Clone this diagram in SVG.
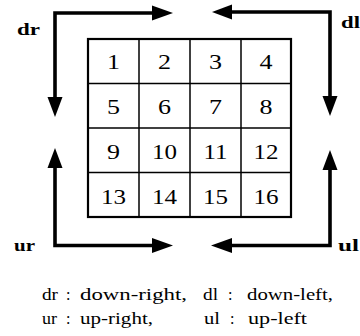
<svg xmlns="http://www.w3.org/2000/svg" width="360" height="336" viewBox="0 0 360 336">
  <style>
    .bg { fill: #ffffff; }
    .cell { fill: none; stroke: #000; stroke-width: 1.5; }
    .frame { fill: none; stroke: #000; stroke-width: 2.2; }
    .num { font-size: 21px; fill: #000; text-anchor: middle; }
    .dir { font-size: 17px; font-weight: bold; fill: #000; }
    .leg { font-size: 16px; fill: #000; }
    .path { fill: none; stroke: #000; stroke-width: 3.6; stroke-linejoin: miter; stroke-linecap: butt; }
    .head { fill: #000; stroke: none; }
  </style>
  <rect class="bg" x="0" y="0" width="360" height="336"/>

  <!-- 4x4 grid of numbered cells -->
  <g id="grid">
    <g class="cell">
      <line x1="139" y1="39" x2="139" y2="217"/>
      <line x1="190" y1="39" x2="190" y2="217"/>
      <line x1="241" y1="39" x2="241" y2="217"/>
      <line x1="88" y1="83.5" x2="291" y2="83.5"/>
      <line x1="88" y1="128" x2="291" y2="128"/>
      <line x1="88" y1="172.5" x2="291" y2="172.5"/>
    </g>
    <rect class="frame" x="88" y="39" width="203" height="178"/>
  </g>
  <g id="cells" font-family="Liberation Serif, DejaVu Serif, serif">
    <g id="row1">
      <text class="num" x="113.5" y="69" textLength="13" lengthAdjust="spacingAndGlyphs">1</text>
      <text class="num" x="164.5" y="69" textLength="13" lengthAdjust="spacingAndGlyphs">2</text>
      <text class="num" x="215.5" y="69" textLength="13" lengthAdjust="spacingAndGlyphs">3</text>
      <text class="num" x="266" y="69" textLength="13" lengthAdjust="spacingAndGlyphs">4</text>
    </g>
    <g id="row2">
      <text class="num" x="113.5" y="114" textLength="13" lengthAdjust="spacingAndGlyphs">5</text>
      <text class="num" x="164.5" y="114" textLength="13" lengthAdjust="spacingAndGlyphs">6</text>
      <text class="num" x="215.5" y="114" textLength="13" lengthAdjust="spacingAndGlyphs">7</text>
      <text class="num" x="266" y="114" textLength="13" lengthAdjust="spacingAndGlyphs">8</text>
    </g>
    <g id="row3">
      <text class="num" x="113.5" y="158.5" textLength="13" lengthAdjust="spacingAndGlyphs">9</text>
      <text class="num" x="164.5" y="158.5" textLength="25" lengthAdjust="spacingAndGlyphs">10</text>
      <text class="num" x="215.5" y="158.5" textLength="24" lengthAdjust="spacingAndGlyphs">11</text>
      <text class="num" x="266" y="158.5" textLength="25" lengthAdjust="spacingAndGlyphs">12</text>
    </g>
    <g id="row4">
      <text class="num" x="113.5" y="203.5" textLength="25" lengthAdjust="spacingAndGlyphs">13</text>
      <text class="num" x="164.5" y="203.5" textLength="25" lengthAdjust="spacingAndGlyphs">14</text>
      <text class="num" x="215.5" y="203.5" textLength="25" lengthAdjust="spacingAndGlyphs">15</text>
      <text class="num" x="266" y="203.5" textLength="25" lengthAdjust="spacingAndGlyphs">16</text>
    </g>
  </g>

  <!-- scan-direction arrows around the grid -->
  <g id="connectors">
    <g id="arrow-dr">
      <polyline class="path" points="153,13 55,13 55,98"/>
      <polygon class="head" points="152,5.5 173,13 152,20.5"/>
      <polygon class="head" points="47.5,97 62.5,97 55,117"/>
    </g>
    <g id="arrow-dl">
      <polyline class="path" points="231,12 330,12 330,97"/>
      <polygon class="head" points="232,4.5 212,12 232,19.5"/>
      <polygon class="head" points="322.5,96 337.5,96 330,116"/>
    </g>
    <g id="arrow-ur">
      <polyline class="path" points="55,167 55,245.5 153,245.5"/>
      <polygon class="head" points="47.5,168 62.5,168 55,148"/>
      <polygon class="head" points="152,238 173,245.5 152,253"/>
    </g>
    <g id="arrow-ul">
      <polyline class="path" points="330,169 330,245.5 231,245.5"/>
      <polygon class="head" points="322.5,170 337.5,170 330,150"/>
      <polygon class="head" points="232,238 211,245.5 232,253"/>
    </g>
  </g>

  <g id="labels" font-family="Liberation Serif, DejaVu Serif, serif">
    <text class="dir" x="17" y="35" textLength="23" lengthAdjust="spacingAndGlyphs">dr</text>
    <text class="dir" x="341" y="28" textLength="19" lengthAdjust="spacingAndGlyphs">dl</text>
    <text class="dir" x="14" y="251" textLength="21" lengthAdjust="spacingAndGlyphs">ur</text>
    <text class="dir" x="338" y="251" textLength="21" lengthAdjust="spacingAndGlyphs">ul</text>
  </g>

  <!-- legend -->
  <g id="legend" font-family="Liberation Serif, DejaVu Serif, serif">
    <text class="leg" x="42" y="300" textLength="16" lengthAdjust="spacingAndGlyphs">dr</text>
    <text class="leg" x="66" y="300">:</text>
    <text class="leg" x="80" y="300" textLength="107" lengthAdjust="spacingAndGlyphs">down-right,</text>
    <text class="leg" x="203" y="300" textLength="15" lengthAdjust="spacingAndGlyphs">dl</text>
    <text class="leg" x="228" y="300">:</text>
    <text class="leg" x="247" y="300" textLength="86" lengthAdjust="spacingAndGlyphs">down-left,</text>
    <text class="leg" x="42" y="324" textLength="15" lengthAdjust="spacingAndGlyphs">ur</text>
    <text class="leg" x="66" y="324">:</text>
    <text class="leg" x="80" y="324" textLength="73" lengthAdjust="spacingAndGlyphs">up-right,</text>
    <text class="leg" x="204" y="324" textLength="16" lengthAdjust="spacingAndGlyphs">ul</text>
    <text class="leg" x="230" y="324">:</text>
    <text class="leg" x="248" y="324" textLength="59" lengthAdjust="spacingAndGlyphs">up-left</text>
  </g>
</svg>
